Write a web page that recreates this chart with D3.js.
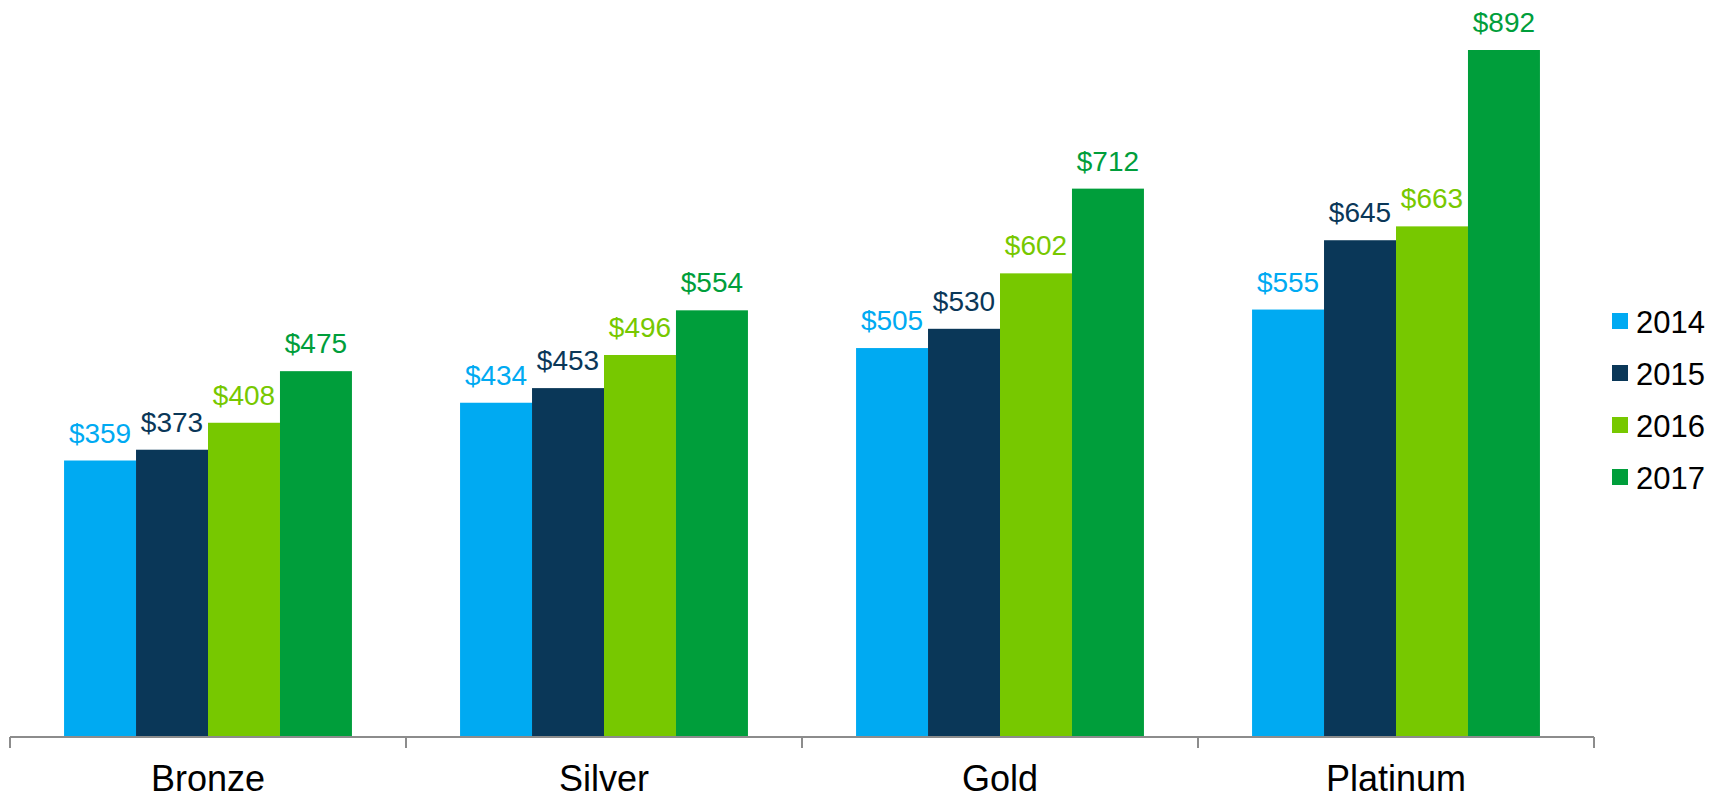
<!DOCTYPE html>
<html>
<head>
  <meta charset="utf-8">
  <script src="https://d3js.org/d3.v7.min.js"></script>
  <style>
    body { margin: 0; background: #fff; }
    svg text { font-family: "Liberation Sans", Arial, sans-serif; }
  </style>
</head>
<body>
<div id="chart"></div>
<script>
// chart data
var tiers = ["Bronze", "Silver", "Gold", "Platinum"];
var years = ["2014", "2015", "2016", "2017"];
var v2014 = [359, 434, 505, 555];
var v2015 = [373, 453, 530, 645];
var v2016 = [408, 496, 602, 663];
var v2017 = [475, 554, 712, 892];
var colors = ["#00aaf2", "#0a3758", "#77c800", "#009e3b"];

var series = [v2014, v2015, v2016, v2017];
var rows = [];
tiers.forEach(function (t, i) {
  years.forEach(function (y, j) {
    rows.push({ tier: t, year: y, value: series[j][i], idx: j });
  });
});

var width = 1725, height = 799;
var svg = d3.select("#chart").append("svg")
  .attr("width", width)
  .attr("height", height);

var x0 = d3.scaleBand().domain(tiers).range([10, 1594]).paddingInner(0).paddingOuter(0);
var x1 = d3.scaleBand().domain(years).range([0, x0.bandwidth() * 0.727]);
var groupOffset = (x0.bandwidth() - x1.range()[1]) / 2;
var y = d3.scaleLinear().domain([0, 892]).range([737, 50]);

// bars
svg.selectAll("rect.bar")
  .data(rows)
  .enter()
  .append("rect")
    .attr("class", "bar")
    .attr("x", function (d) { return x0(d.tier) + groupOffset + x1(d.year); })
    .attr("y", function (d) { return y(d.value); })
    .attr("width", x1.bandwidth())
    .attr("height", function (d) { return y(0) - y(d.value); })
    .attr("fill", function (d) { return colors[d.idx]; });

// value labels
svg.selectAll("text.val")
  .data(rows)
  .enter()
  .append("text")
    .attr("class", "val")
    .attr("x", function (d) { return x0(d.tier) + groupOffset + x1(d.year) + x1.bandwidth() / 2; })
    .attr("y", function (d) { return y(d.value) - 18; })
    .attr("text-anchor", "middle")
    .style("font-size", "28px")
    .attr("fill", function (d) { return colors[d.idx]; })
    .text(function (d) { return "$" + d.value; });

// x axis: baseline with ticks at band edges
var axis = svg.append("g");
axis.append("line")
  .attr("x1", 10).attr("x2", 1594)
  .attr("y1", 737).attr("y2", 737)
  .attr("stroke", "#8c8c8c").attr("stroke-width", 2);
var edges = tiers.map(function (t) { return x0(t); }).concat([x0.range()[1]]);
axis.selectAll("line.tick")
  .data(edges)
  .enter()
  .append("line")
    .attr("class", "tick")
    .attr("x1", function (d) { return d; }).attr("x2", function (d) { return d; })
    .attr("y1", 737).attr("y2", 748)
    .attr("stroke", "#8c8c8c").attr("stroke-width", 2);
axis.selectAll("text.cat")
  .data(tiers)
  .enter()
  .append("text")
    .attr("class", "cat")
    .attr("x", function (d) { return x0(d) + x0.bandwidth() / 2; })
    .attr("y", 791)
    .attr("text-anchor", "middle")
    .style("font-size", "36px")
    .attr("fill", "#000")
    .text(function (d) { return d; });

// legend
var legend = svg.selectAll("g.legend")
  .data(years)
  .enter()
  .append("g")
    .attr("class", "legend")
    .attr("transform", function (d, i) { return "translate(1612," + (313 + i * 52) + ")"; });
legend.append("rect")
  .attr("width", 16).attr("height", 16)
  .attr("fill", function (d, i) { return colors[i]; });
legend.append("text")
  .attr("x", 24)
  .attr("y", 19.5)
  .style("font-size", "31px")
  .attr("fill", "#000")
  .text(function (d) { return d; });
</script>
</body>
</html>
